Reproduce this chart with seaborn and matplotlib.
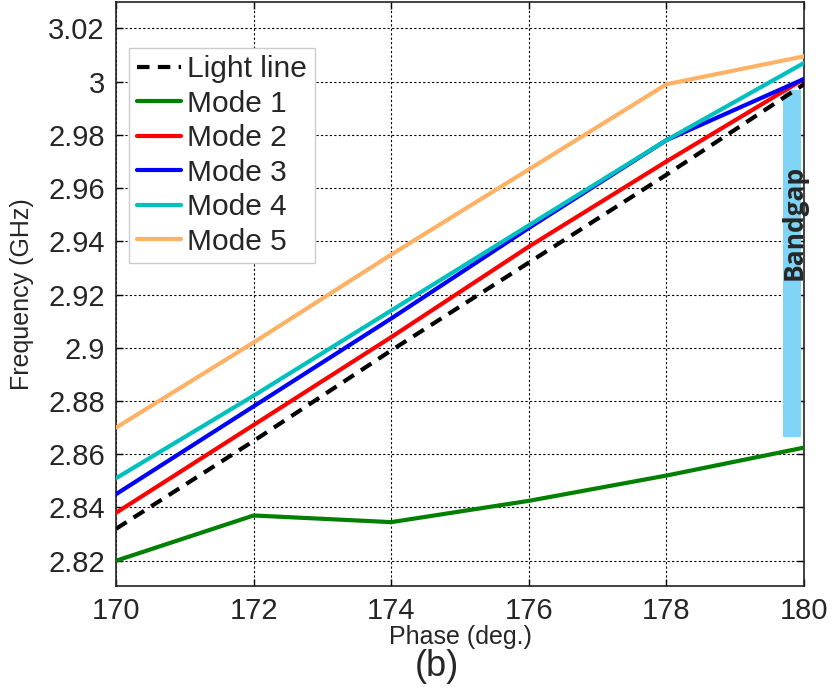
import matplotlib
matplotlib.use("Agg")
import matplotlib.pyplot as plt
import seaborn as sns
import pandas as pd
from matplotlib.patches import Rectangle

phase = [170, 172, 174, 176, 178, 180]
light_line = [2.832, 2.865, 2.899, 2.932, 2.965, 2.999]
mode1 = [2.820, 2.837, 2.8345, 2.8425, 2.852, 2.8625]
mode2 = [2.838, 2.871, 2.904, 2.938, 2.970, 3.001]
mode3 = [2.845, 2.878, 2.911, 2.945, 2.978, 3.001]
mode4 = [2.851, 2.882, 2.914, 2.946, 2.978, 3.007]
mode5 = [2.870, 2.902, 2.935, 2.967, 2.999, 3.0095]
series_names = ["Light line", "Mode 1", "Mode 2", "Mode 3", "Mode 4", "Mode 5"]
yticks = [2.82, 2.84, 2.86, 2.88, 2.90, 2.92, 2.94, 2.96, 2.98, 3.00, 3.02]
ytick_labels = ["2.82", "2.84", "2.86", "2.88", "2.9", "2.92", "2.94", "2.96", "2.98", "3", "3.02"]
xticks = [170, 172, 174, 176, 178, 180]
bandgap_x = [179.69, 179.95]
bandgap_y = [2.8665, 2.997]

sns.set_theme(style="white")
plt.rcParams['font.family'] = ['Liberation Sans', 'DejaVu Sans']

frames = []
for name, vals in zip(series_names, [light_line, mode1, mode2, mode3, mode4, mode5]):
    frames.append(pd.DataFrame({"Phase": phase, "Freq": vals, "Series": name}))
df = pd.concat(frames, ignore_index=True)

colors = {"Light line": "black", "Mode 1": "#008000", "Mode 2": "#FF0000",
          "Mode 3": "#0000FF", "Mode 4": "#00BFBF", "Mode 5": "#FFB266"}

fig = plt.figure(figsize=(8.33, 6.94), dpi=100)
ax = fig.add_axes([0.1393, 0.1556, 0.8259, 0.8415])

# bandgap rectangle
ax.add_patch(Rectangle((bandgap_x[0], bandgap_y[0]), bandgap_x[1] - bandgap_x[0],
                       bandgap_y[1] - bandgap_y[0], color="#80D4F5", zorder=1, lw=0))

for name in series_names:
    sub = df[df["Series"] == name]
    sns.lineplot(data=sub, x="Phase", y="Freq", ax=ax, color=colors[name],
                 linewidth=3, label=name, zorder=3 if name != "Light line" else 4)
    if name == "Light line":
        ax.lines[-1].set_dashes((3, 2))

ax.text(179.86, 2.947, "Bandgap", rotation=90, ha="center", va="center",
        fontsize=19, fontweight="bold", family=["Open Sans", "DejaVu Sans"], zorder=5)

ax.set_xlim(170, 180)
ax.set_ylim(2.8105, 3.0299)
ax.set_xticks(xticks)
ax.set_yticks(yticks)
ax.set_yticklabels(ytick_labels)
ax.tick_params(axis="both", labelsize=21, direction="in", length=5, width=1,
               top=True, right=True, bottom=True, left=True, color="black", pad=8)
ax.grid(True, color="black", linestyle=(0, (2, 2)), linewidth=0.8)
for sp in ax.spines.values():
    sp.set_color("#222222")
    sp.set_linewidth(1.2)

ax.set_xlabel("Phase (deg.)", fontsize=18, labelpad=0)
ax.set_ylabel("Frequency (GHz)", fontsize=18, labelpad=10)

leg = ax.legend(loc="upper left", bbox_to_anchor=(0.019, 0.922), borderaxespad=0,
                fontsize=21.5, handlelength=1.5, handletextpad=0.2, labelspacing=0.22,
                borderpad=0.25, fancybox=False, framealpha=1, edgecolor="#cccccc")
leg.get_frame().set_linewidth(1)

fig.text(0.525, 0.04, "(b)", fontsize=26, ha="center", va="center")

fig.savefig("out.png", dpi=100)
